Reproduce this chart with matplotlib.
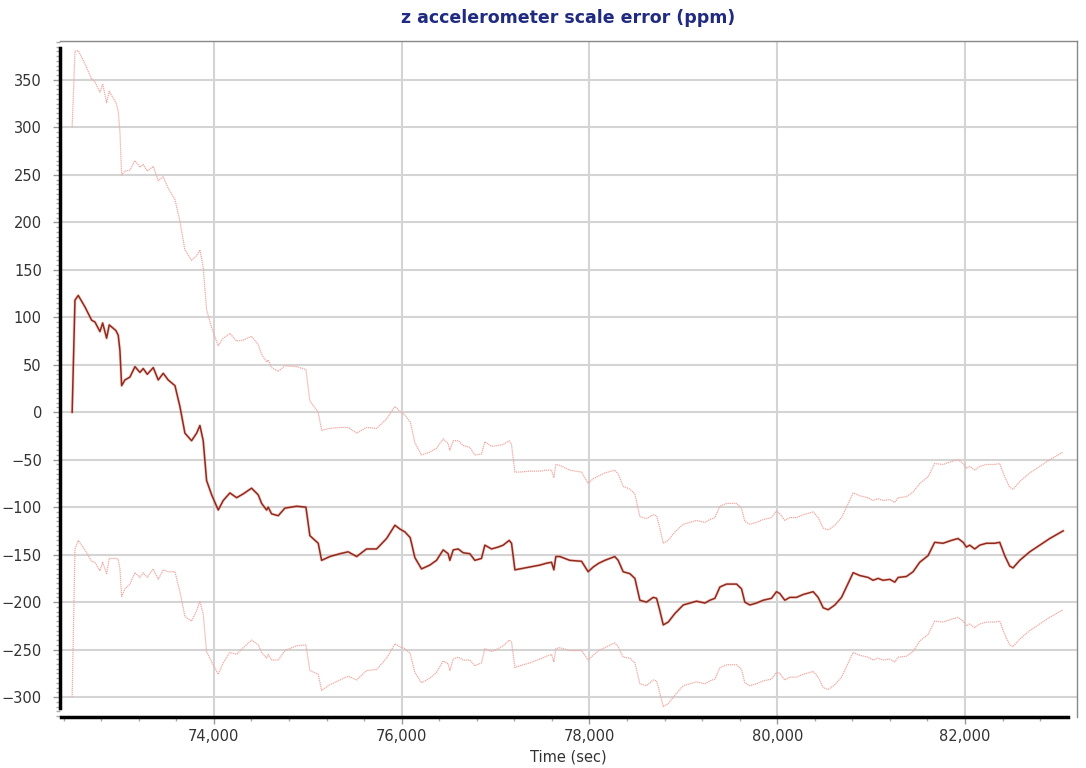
import matplotlib
matplotlib.use('Agg')
import matplotlib.pyplot as plt
from matplotlib.ticker import MultipleLocator, FuncFormatter
import numpy as np

# time stamps (sec), scale error estimate (ppm), 1-sigma half width (ppm)
time_sec = [
    72490, 72520, 72555, 72626, 72697, 72733, 72786, 72815, 72857, 72885,
    72956, 72981, 72999, 73017, 73052, 73105, 73159, 73212, 73247, 73290,
    73354, 73407, 73460, 73513, 73585, 73638, 73691, 73762, 73816, 73851,
    73886, 73922, 73976, 74046, 74099, 74170, 74242, 74312, 74401, 74472,
    74508, 74561, 74578, 74614, 74685, 74756, 74881, 74980, 75022, 75111,
    75147, 75235, 75342, 75430, 75520, 75626, 75733, 75839, 75928, 75981,
    76034, 76090, 76105, 76140, 76211, 76300, 76371, 76442, 76495, 76513,
    76549, 76602, 76655, 76726, 76779, 76850, 76886, 76957, 77028, 77081,
    77145, 77170, 77206, 77259, 77365, 77472, 77543, 77596, 77621, 77642,
    77685, 77791, 77916, 77986, 78040, 78100, 78164, 78270, 78306, 78359,
    78430, 78484, 78537, 78608, 78679, 78715, 78750, 78786, 78839, 78910,
    78999, 79070, 79141, 79230, 79283, 79336, 79390, 79461, 79567, 79620,
    79655, 79708, 79779, 79850, 79939, 79992, 80028, 80081, 80134, 80205,
    80276, 80383, 80436, 80490, 80543, 80614, 80685, 80738, 80809, 80880,
    80968, 81021, 81074, 81128, 81199, 81252, 81288, 81376, 81447, 81518,
    81607, 81677, 81766, 81855, 81926, 81980, 82015, 82050, 82104, 82157,
    82228, 82317, 82370, 82423, 82476, 82512, 82583, 82690, 82796, 82903,
    83045,
]
scale_err = [
    0, 118, 123, 111, 97, 95, 85, 94, 78, 92,
    86, 81, 65, 28, 34, 37, 48, 42, 46, 40,
    47, 34, 41, 34, 28, 6, -22, -30, -22, -14,
    -30, -72, -87, -103, -93, -85, -90, -86, -80, -87,
    -96, -103, -100, -107, -109, -101, -99, -100, -130, -138,
    -156, -152, -149, -147, -152, -144, -144, -133, -119, -123,
    -126, -132, -138, -153, -165, -161, -156, -145, -149, -156,
    -145, -144, -148, -149, -156, -154, -140, -144, -142, -140,
    -135, -138, -166, -165, -163, -161, -159, -158, -166, -152,
    -152, -156, -157, -168, -163, -159, -156, -152, -156, -168,
    -170, -175, -198, -200, -195, -196, -209, -224, -221, -212,
    -203, -201, -199, -201, -198, -196, -184, -181, -181, -186,
    -200, -203, -201, -198, -196, -189, -191, -198, -195, -195,
    -192, -189, -195, -206, -208, -203, -195, -184, -169, -172,
    -174, -177, -175, -177, -176, -179, -174, -173, -168, -158,
    -151, -137, -138, -135, -133, -137, -142, -140, -144, -140,
    -138, -138, -137, -151, -162, -164, -156, -147, -140, -133,
    -125,
]
sigma = [
    300, 262, 258, 256, 254, 253, 252, 252, 248, 246,
    240, 236, 230, 222, 220, 218, 217, 216, 215, 214,
    212, 210, 207, 202, 196, 195, 193, 190, 187, 185,
    183, 180, 176, 173, 171, 168, 165, 162, 160, 158,
    157, 156, 155, 154, 152, 150, 147, 145, 142, 138,
    137, 135, 133, 131, 130, 128, 127, 126, 125, 124,
    123, 122, 122, 121, 120, 119, 118, 117, 116, 116,
    115, 114, 113, 112, 111, 110, 109, 108, 107, 106,
    105, 104, 103, 102, 101, 99, 98, 97, 97, 97,
    96, 95, 94, 93, 93, 92, 92, 91, 91, 90,
    89, 89, 88, 88, 87, 87, 87, 86, 86, 86,
    85, 85, 85, 85, 85, 85, 85, 85, 85, 85,
    85, 85, 85, 85, 85, 85, 84, 84, 84, 84,
    84, 84, 84, 84, 84, 84, 84, 84, 84, 84,
    84, 84, 84, 84, 84, 84, 84, 84, 84, 83,
    83, 83, 83, 83, 83, 83, 83, 83, 83, 83,
    83, 83, 83, 83, 83, 83, 83, 83, 83, 83,
    83,
]

t = np.array(time_sec)
est = np.array(scale_err)
sig = np.array(sigma)

fig = plt.figure(figsize=(10.86, 7.68), dpi=100)
ax = fig.add_axes([0.0552, 0.0664, 0.9365, 0.8802])

# grid first so the curves sit on top
ax.grid(True, which='major', color='#d4d4d4', linewidth=1.5)
ax.set_axisbelow(True)

# confidence bounds: faint dotted pink
ax.plot(t, est + sig, color='#eeaaa4', linewidth=0.9, linestyle=(0, (1, 0.6)))
ax.plot(t, est - sig, color='#eeaaa4', linewidth=0.9, linestyle=(0, (1, 0.6)))
# estimate: dark red core with a light red halo
ax.plot(t, est, color='#f08070', linewidth=2.2, alpha=0.35, solid_joinstyle='round')
ax.plot(t, est, color='#8e2a1e', linewidth=1.1, solid_joinstyle='round')

ax.set_xlim(72360, 83193)
ax.set_ylim(-321, 391)

ax.xaxis.set_major_locator(MultipleLocator(2000))
ax.xaxis.set_minor_locator(MultipleLocator(400))
ax.yaxis.set_major_locator(MultipleLocator(50))
ax.yaxis.set_minor_locator(MultipleLocator(5))
ax.xaxis.set_major_formatter(FuncFormatter(lambda v, p: f'{v:,.0f}'))
ax.set_yticks(np.arange(-300, 351, 50))
ax.set_xticks(np.arange(74000, 82001, 2000))

ax.tick_params(axis='both', which='major', labelsize=10.5, labelcolor='#333333',
               color='#999999', length=5, width=1)
ax.tick_params(axis='both', which='minor', color='#aaaaaa', length=3, width=1)
ax.tick_params(axis='y', which='both', pad=8)

for side in ('top', 'right'):
    ax.spines[side].set_color('#888888')
    ax.spines[side].set_linewidth(1)
ax.spines['left'].set_color('black')
ax.spines['left'].set_linewidth(2.5)
ax.spines['left'].set_bounds(-312, 384)
ax.spines['bottom'].set_color('black')
ax.spines['bottom'].set_linewidth(2.5)
ax.spines['bottom'].set_bounds(72370, 83100)

ax.set_xlabel('Time (sec)', fontsize=10.5, color='#333333', labelpad=4)
ax.set_title('z accelerometer scale error (ppm)', fontsize=12.5, fontweight='bold',
             color='#1f2a80', pad=13)

fig.savefig('out.png', dpi=100)
